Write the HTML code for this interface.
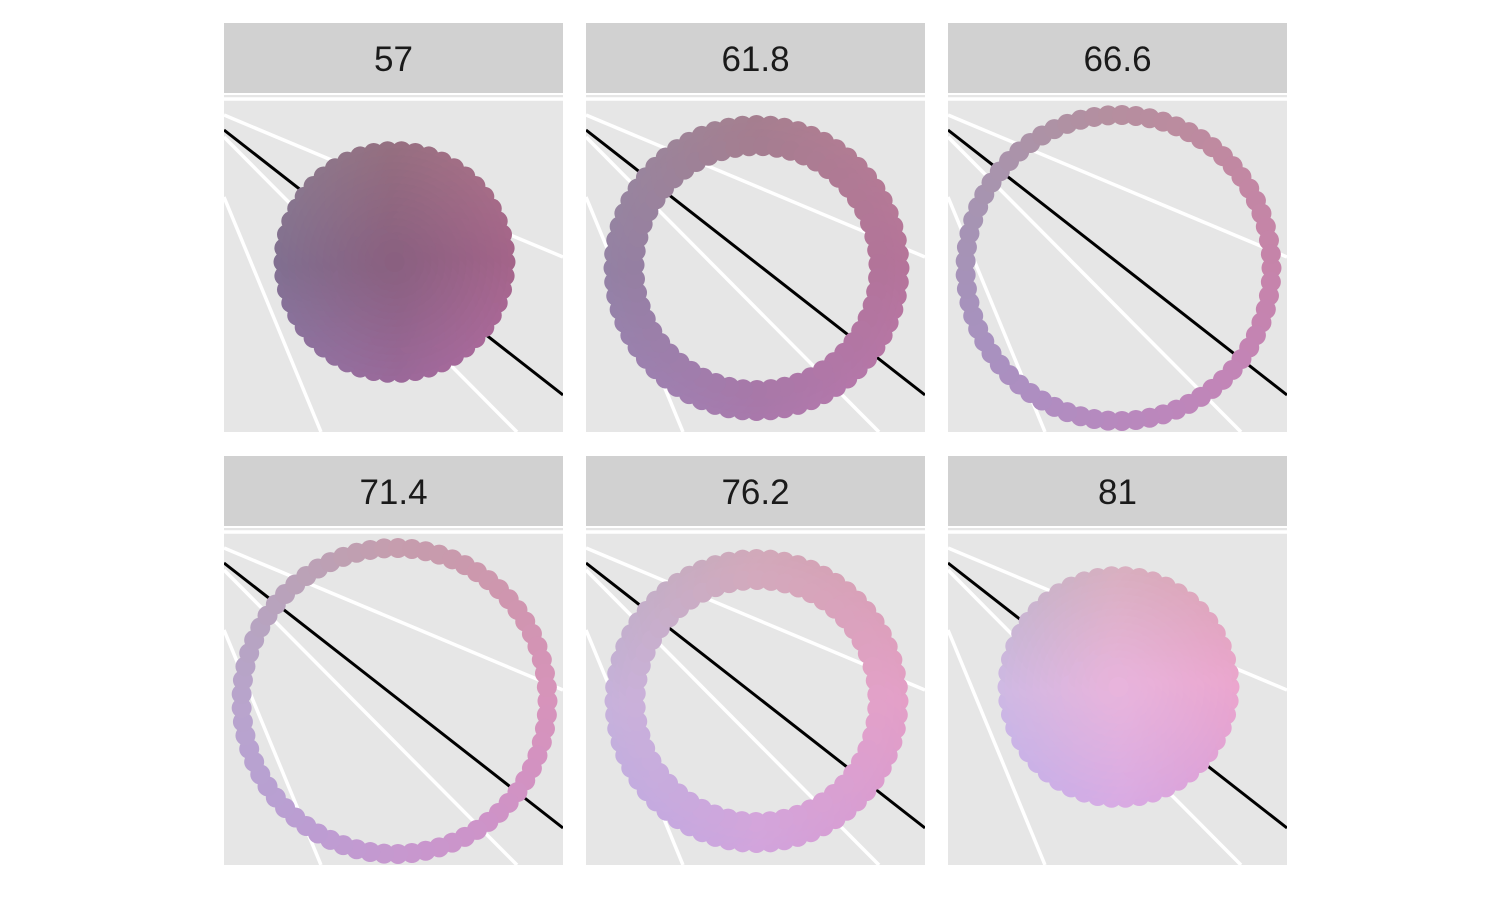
<!DOCTYPE html>
<html><head><meta charset="utf-8"><style>
html,body{margin:0;padding:0;background:#fff;}
svg{display:block;font-family:"Liberation Sans",Arial,sans-serif;}
</style></head><body>
<svg id="chart" width="1500" height="900" viewBox="0 0 1500 900" xmlns="http://www.w3.org/2000/svg"></svg>
<script>
const facetLabels = ["57","61.8","66.6","71.4","76.2","81"];
const outerRadius = [121,153,163,163,152,121];
const innerRadius = [0,110,139,139,110,0];
const lightness = [0,0.24,0.48,0.72,0.9,1];

const NS="http://www.w3.org/2000/svg";
const svg=document.getElementById('chart');
function el(tag,attrs,parent){const e=document.createElementNS(NS,tag);for(const k in attrs)e.setAttribute(k,attrs[k]);(parent||svg).appendChild(e);return e;}
const colX=[224,586,948], rowY=[23,456], PW=339;
const defs=el('defs',{});
const dark=[[138,96,128],[150,112,128],[165,100,138],[155,105,155],[128,112,145]];
const light=[[232,180,220],[215,175,190],[235,165,205],[215,170,228],[205,185,228]];
function mix(a,b,t){return a.map((v,i)=>v+(b[i]-v)*t);}
facetLabels.forEach((lab,i)=>{
  const x0=colX[i%3], y0=rowY[Math.floor(i/3)];
  const strip=el('rect',{x:x0,y:y0,width:PW,height:70,fill:'#d1d1d1'});
  
  
  const t=el('text',{x:x0+PW/2,y:y0+48,'text-anchor':'middle','font-size':35,fill:'#1a1a1a'});
  t.textContent=lab;
  
  
  const py=y0+72, ph=337;
  const cp=el('clipPath',{id:'cp'+i},defs);
  el('rect',{x:x0,y:py,width:PW,height:ph},cp);
  const g=el('g',{'clip-path':'url(#cp'+i+')'});
  
  
  el('rect',{x:x0,y:py,width:PW,height:ph,fill:'#e6e6e6'},g);
  const lines=[[0,4,339,4],[0,20,339,162],[0,42,293,337],[0,102,97,337]];
  lines.forEach(l=>el('line',{x1:x0+l[0],y1:py+l[1],x2:x0+l[2],y2:py+l[3],stroke:'#fff','stroke-width':3.5},g));
  el('line',{x1:x0,y1:py+35,x2:x0+339,y2:py+300,stroke:'#000','stroke-width':3},g);
  const cx=x0+PW/2+1, cy=py+ (outerRadius[i]>130?173:(i<3?167:159));
  const pal=mix(dark.flat(),light.flat(),lightness[i]);
  const P=k=>[pal[k*3],pal[k*3+1],pal[k*3+2]];
  const C=P(0),T=P(1),R=P(2),B=P(3),L=P(4);
  const R0=outerRadius[i], Ri=innerRadius[i];
  const dr=10;
  const radii=[];
  for(let r=R0-dr; r>=Math.max(Ri+dr,0); r-=7){radii.push(r); if(r<dr)break;}
  radii.forEach((r,ri)=>{
    const edge = ri===0 || (Ri>0 && ri===radii.length-1);
    const sp = edge?14:7;
    const n=Math.max(1,Math.round(2*Math.PI*r/sp));
    const off = ri*0.37;
    for(let k=0;k<n;k++){
      const a=2*Math.PI*k/n+off;
      const dx=Math.cos(a)*r/R0, dy=Math.sin(a)*r/R0;
      const col=C.map((v,j)=>{
        let c=v;
        c+= dx>0? dx*(R[j]-v): -dx*(L[j]-v);
        c+= dy>0? dy*(B[j]-v): -dy*(T[j]-v);
        return Math.round(Math.max(0,Math.min(255,c)));
      });
      el('circle',{cx:cx+Math.cos(a)*r,cy:cy+Math.sin(a)*r,r:dr,fill:'rgb('+col.join(',')+')'},g);
    }
  });
  if(Ri===0) el('circle',{cx:cx,cy:cy,r:10,fill:'rgb('+C.map(Math.round).join(',')+')'},g);
});
</script>
</body></html>
